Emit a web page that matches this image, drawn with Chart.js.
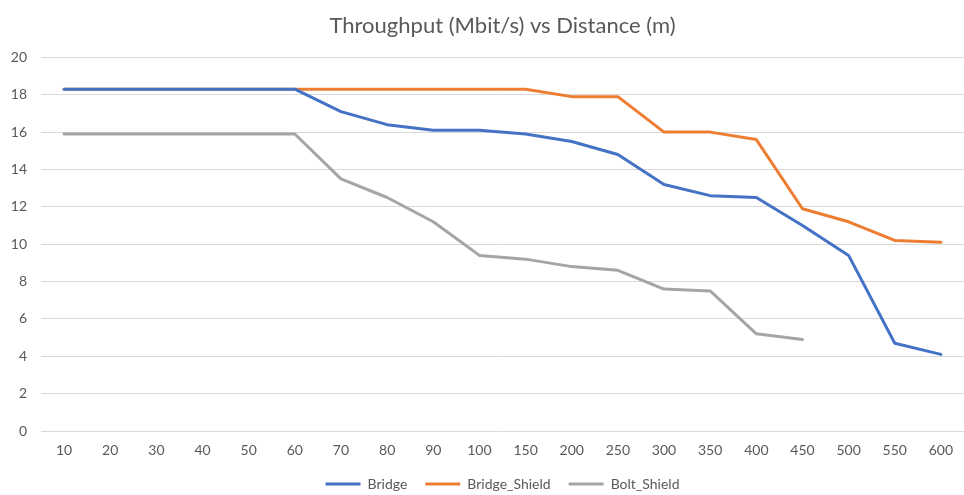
<!DOCTYPE html>
<html>
<head>
<meta charset="utf-8">
<script src="https://cdn.jsdelivr.net/npm/chart.js@4"></script>
<style>
  html, body { margin: 0; padding: 0; background: #fff; }
  #wrap { width: 964px; height: 495px; }
</style>
</head>
<body>
<div id="wrap"><canvas id="tpChart" width="964" height="495"></canvas></div>
<script>
(function () {
  "use strict";

  // distance categories (m)
  var distances = ["10", "20", "30", "40", "50", "60", "70", "80", "90", "100",
    "150", "200", "250", "300", "350", "400", "450", "500", "550", "600"];

  // throughput (Mbit/s)
  var bridge = [18.3, 18.3, 18.3, 18.3, 18.3, 18.3, 17.1, 16.4, 16.1, 16.1,
    15.9, 15.5, 14.8, 13.2, 12.6, 12.5, 11.0, 9.4, 4.7, 4.1];
  var bridgeShield = [18.3, 18.3, 18.3, 18.3, 18.3, 18.3, 18.3, 18.3, 18.3, 18.3,
    18.3, 17.9, 17.9, 16.0, 16.0, 15.6, 11.9, 11.2, 10.2, 10.1];
  var boltShield = [15.9, 15.9, 15.9, 15.9, 15.9, 15.9, 13.5, 12.5, 11.2, 9.4,
    9.2, 8.8, 8.6, 7.6, 7.5, 5.2, 4.9, null, null, null];

  var yTicks = [0, 2, 4, 6, 8, 10, 12, 14, 16, 18, 20];

  var txt = "#595959";
  var font = "Lato, 'Open Sans', sans-serif";

  function line(label, values, color) {
    return {
      label: label,
      data: values,
      borderColor: color,
      backgroundColor: color,
      borderWidth: 3,
      pointRadius: 0,
      tension: 0,
      fill: false,
      spanGaps: false,
      borderJoinStyle: "round",
      borderCapStyle: "round"
    };
  }

  var ctx = document.getElementById("tpChart").getContext("2d");
  new Chart(ctx, {
    type: "line",
    data: {
      labels: distances,
      datasets: [
        line("Bridge", bridge, "#4472C4"),
        line("Bridge_Shield", bridgeShield, "#ED7D31"),
        line("Bolt_Shield", boltShield, "#A5A5A5")
      ]
    },
    options: {
      responsive: false,
      animation: false,
      layout: { padding: { left: 0, right: 0, top: 8, bottom: -6 } },
      plugins: {
        title: {
          display: true,
          fullSize: false,
          text: "Throughput (Mbit/s) vs Distance (m)",
          color: txt,
          font: { family: font, size: 22, weight: "normal" },
          padding: { top: 5, bottom: 18 }
        },
        legend: {
          position: "bottom",
          fullSize: false,
          labels: {
            color: txt,
            font: { family: font, size: 14 },
            boxWidth: 35,
            boxHeight: 3,
            padding: 18,
            generateLabels: function (chart) {
              var items = Chart.defaults.plugins.legend.labels.generateLabels(chart);
              items.forEach(function (it) { it.lineWidth = 0; });
              return items;
            }
          }
        },
        tooltip: { enabled: false }
      },
      scales: {
        x: {
          offset: true,
          grid: { display: false },
          border: { display: false },
          afterFit: function (s) { s.height = 28; },
          ticks: { color: txt, font: { family: font, size: 14 }, maxRotation: 0, autoSkip: false, padding: 3 }
        },
        y: {
          min: 0,
          max: 20,
          afterBuildTicks: function (s) {
            s.ticks = yTicks.map(function (v) { return { value: v }; });
          },
          afterFit: function (s) { s.width = 41; },
          grid: { color: "#d9d9d9", drawTicks: false },
          border: { display: false },
          ticks: { color: txt, font: { family: font, size: 14 }, padding: 14 }
        }
      }
    }
  });
})();
</script>
</body>
</html>
